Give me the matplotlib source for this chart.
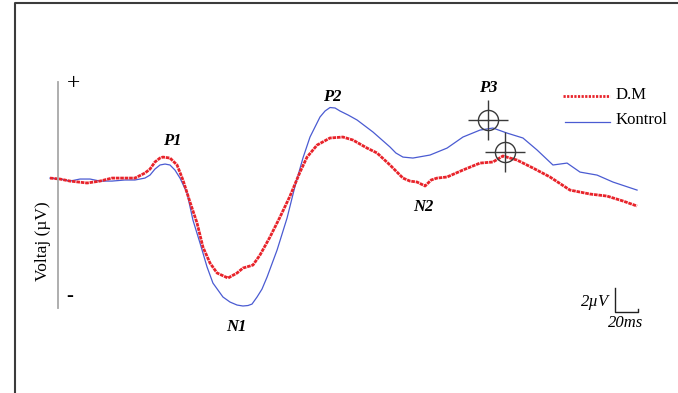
import matplotlib
matplotlib.use('Agg')
import matplotlib.pyplot as plt
from matplotlib.lines import Line2D

# ---- data (time in ms from epoch start, voltage in microvolts) ----
t_dm = [0, 8.5, 17, 31.5, 42.5, 52.7, 63.7, 72.2, 80.7, 85, 89.2, 93.5, 96, 102, 108,
        113, 119, 125, 130, 136, 142, 151.3, 159, 164, 172.5, 178.5, 187, 195.5, 204,
        212.5, 218.5, 227, 238, 249, 257.5, 269.5, 278, 289, 300, 306, 312, 318.8, 324,
        329, 337.5, 351, 365.5, 376.5, 385, 397, 410.5, 425, 442, 459, 473.5, 487, 499]
v_dm = [0.08, 0.0, -0.17, -0.33, -0.17, 0.08, 0.08, 0.08, 0.5, 0.83, 1.42, 1.75, 1.83,
        1.75, 1.17, -0.08, -1.92, -3.67, -5.67, -7.0, -7.83, -8.25, -7.83, -7.42, -7.17,
        -6.33, -4.83, -3.17, -1.42, 0.58, 1.83, 2.83, 3.42, 3.5, 3.25, 2.58, 2.17, 1.17,
        0.08, -0.17, -0.25, -0.58, -0.08, 0.08, 0.17, 0.75, 1.33, 1.42, 1.92, 1.58, 0.92,
        0.17, -0.92, -1.25, -1.42, -1.83, -2.25]

t_k = [0, 8.5, 17, 25.5, 34, 42.5, 52.7, 63.7, 72.2, 80.7, 85, 89.2, 93.5, 97.8, 102,
       106.2, 110.5, 116.5, 121.5, 127.5, 133.5, 138.5, 147, 153, 159, 164, 168.3, 171.7,
       176, 180.2, 184.5, 193, 201.5, 208.3, 215, 221, 229.5, 233.8, 238, 242.3, 246.5,
       253.5, 261, 274.5, 289, 294, 300, 308.5, 323, 337.5, 351, 365.5, 376.5, 388.5,
       402, 414, 427.5, 439.5, 450.5, 465, 478.5, 499]
v_k = [0.08, 0.0, -0.17, 0.0, 0.0, -0.17, -0.17, -0.08, -0.08, 0.08, 0.33, 0.83, 1.17,
       1.25, 1.17, 0.75, 0.08, -1.17, -3.42, -5.33, -7.33, -8.67, -9.83, -10.25, -10.5,
       -10.58, -10.54, -10.42, -9.83, -9.17, -8.17, -5.92, -3.25, -0.58, 1.75, 3.5, 5.17,
       5.67, 5.96, 5.92, 5.67, 5.33, 4.92, 3.92, 2.67, 2.17, 1.83, 1.75, 2.0, 2.58, 3.5,
       4.08, 4.25, 3.83, 3.42, 2.42, 1.17, 1.33, 0.58, 0.33, -0.25, -0.92]

p3_t = [372, 387]
p3_v = [4.9, 2.25]

peak_labels = ['P1', 'N1', 'P2', 'N2', 'P3']
legend_labels = ['D.M', 'Kontrol']
axis_label = 'Voltaj (µV)'
scale_labels = ['2µV', '20ms']

RED = '#e8232a'
BLUE = '#4a5bd2'
SERIF = ['Liberation Serif', 'DejaVu Serif']
RED_LS = (0, (1.3, 0.3))

W, H = 678, 393
fig = plt.figure(figsize=(W / 100, H / 100), dpi=100)
ax = fig.add_axes([0, 0, 1, 1])
ax.set_xlim(-42.5, 533.8)
ax.set_ylim(-17.83, 14.92)
ax.axis('off')


def fx(x):
    return x / W


def fy(y):
    return 1 - y / H


def fline(xs, ys, **kw):
    fig.add_artist(Line2D([fx(x) for x in xs], [fy(y) for y in ys],
                          transform=fig.transFigure, **kw))


# frame
fline([15, 15, 678], [H, 3, 3], color='#3c3c3c', lw=1.5, solid_capstyle='butt')
# vertical voltage axis
fline([57.5, 57.5], [82, 308], color='#a8a8a8', lw=1.3)

# curves
ax.plot(t_k, v_k, color=BLUE, lw=0.9, zorder=3)
ax.plot(t_dm, v_dm, color=RED, lw=2.0, ls=RED_LS, dash_capstyle='butt', zorder=4)

# P3 crosshair markers
ax.plot(p3_t, p3_v, ls='none', marker='o', ms=14.5, mfc='none', mec='#3a3a3a', mew=1.0, zorder=5)
ax.plot(p3_t, p3_v, ls='none', marker='+', ms=29, mec='#3a3a3a', mew=1.0, zorder=5)

# peak labels
peak_pos = [(172, 141), (236, 327), (332, 97), (423, 207), (488, 88)]
for lab, (x, y) in zip(peak_labels, peak_pos):
    fig.text(fx(x), fy(y), lab, ha='center', va='center', fontsize=12,
             fontweight='bold', style='italic', family=SERIF)

# + / - signs and axis label
fig.text(fx(74), fy(84), '+', ha='center', va='center', fontsize=17, family=SERIF)
fig.text(fx(70), fy(296), '-', ha='center', va='center', fontsize=15, family=SERIF,
         fontweight='bold')
fig.text(fx(43), fy(241), axis_label, ha='center', va='center', rotation=90,
         fontsize=12.5, family=SERIF)

# legend
fline([563, 610], [96, 96], color=RED, lw=2.0, ls=(0, (0.8, 0.5)), dash_capstyle='butt')
fline([565, 610], [122, 122], color=BLUE, lw=0.9)
fig.text(fx(616), fy(95), legend_labels[0], ha='left', va='center', fontsize=12, family=SERIF)
fig.text(fx(616), fy(120), legend_labels[1], ha='left', va='center', fontsize=12, family=SERIF)

# scale bar
fline([615, 615, 638, 638], [288, 312, 312, 309], color='#222222', lw=1.0)
fig.text(fx(609), fy(302), scale_labels[0], ha='right', va='center', fontsize=12,
         style='italic', family=SERIF)
fig.text(fx(626), fy(323), scale_labels[1], ha='center', va='center', fontsize=12,
         style='italic', family=SERIF)

fig.savefig('out.png', dpi=100)
